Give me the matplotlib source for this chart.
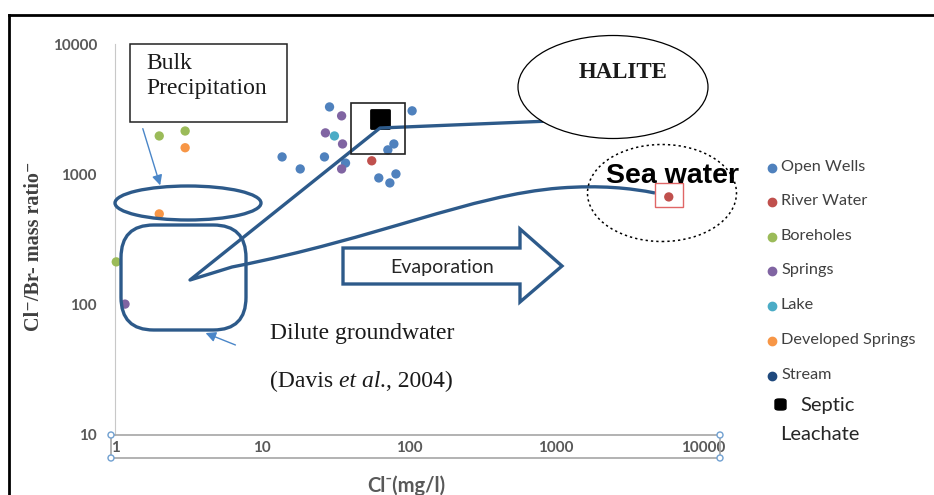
import matplotlib
matplotlib.use('Agg')
import matplotlib.pyplot as plt
from matplotlib.patches import Ellipse, Rectangle, FancyBboxPatch, Polygon, PathPatch, FancyArrowPatch
from matplotlib.lines import Line2D
from matplotlib.path import Path

# Cl (mg/l) vs Cl/Br mass ratio, per sample type
open_wells_x = [13.7, 18.2, 28.8, 26.6, 37, 105, 78.9, 71.8, 62.3, 81.5, 74.1]
open_wells_y = [1360, 1100, 3290, 1360, 1220, 3070, 1710, 1540, 938, 1007, 859]
river_x = [55.8, 5850]
river_y = [1270, 671]
bore_x = [2.0, 3.0, 1.02]
bore_y = [1970, 2150, 213]
springs_x = [34.8, 27, 35.3, 34.8, 1.17]
springs_y = [2810, 2080, 1710, 1100, 101]
lake_x = [31.1]
lake_y = [1970]
dev_x = [3.0, 2.0]
dev_y = [1600, 497]
stream_x = []
stream_y = []
septic_x = [63.3]
septic_y = [2660]

categories = ['Open Wells', 'River Water', 'Boreholes', 'Springs', 'Lake',
              'Developed Springs', 'Stream']
colors = ['#4F81BD', '#C0504D', '#9BBB59', '#8064A2', '#4BACC6', '#F79646', '#1F497D']
series = [(open_wells_x, open_wells_y), (river_x, river_y), (bore_x, bore_y),
          (springs_x, springs_y), (lake_x, lake_y), (dev_x, dev_y),
          (stream_x, stream_y)]

x_ticks = [1, 10, 100, 1000, 10000]
y_ticks = [10, 100, 1000, 10000]

W, H = 934, 495
fig = plt.figure(figsize=(W / 100, H / 100), dpi=100)


def P(x, y):
    # pixel position (top-left origin) -> figure fraction
    return (x / W, 1 - y / H)


ax0, ax1, ay0, ay1 = 115, 703, 435, 44
ax = fig.add_axes([ax0 / W, 1 - ay0 / H, (ax1 - ax0) / W, (ay0 - ay1) / H])
ax.set_xscale('log')
ax.set_yscale('log')
ax.set_xlim(1, 10000)
ax.set_ylim(10, 10000)
for s in ax.spines.values():
    s.set_visible(False)
ax.spines['left'].set_visible(True)
ax.spines['left'].set_color('#c8c8c8')
ax.minorticks_off()
ax.set_xticks(x_ticks)
ax.set_xticklabels([str(v) for v in x_ticks])
ax.set_yticks(y_ticks)
ax.set_yticklabels([str(v) for v in y_ticks])
ax.tick_params(length=0, labelcolor='#595959', labelsize=11)
ax.tick_params(axis='y', pad=13)
ax.tick_params(axis='x', pad=4)
for lab in ax.get_xticklabels() + ax.get_yticklabels():
    lab.set_family('Lato')
    lab.set_fontweight('bold')

for (xs, ys), c in zip(series, colors):
    if xs:
        ax.scatter(xs, ys, s=45, color=c, edgecolor='none', zorder=3, clip_on=False)
ax.scatter(septic_x, septic_y, marker='s', s=150, color='black',
           edgecolor='black', linewidth=2, zorder=4)

# x axis frame with selection handles
gray = '#a6a6a6'
for (xa, ya, xb, yb) in [(111, 435, 720, 435), (111, 458, 720, 458),
                         (111, 435, 111, 458), (720, 435, 720, 458)]:
    fig.add_artist(Line2D(*zip(P(xa, ya), P(xb, yb)), color=gray, lw=1.2))
for (xa, ya) in [(111, 435), (720, 435), (111, 458), (720, 458)]:
    fig.add_artist(Ellipse(P(xa, ya), 6 / W, 6 / H, transform=fig.transFigure,
                           facecolor='white', edgecolor='#6f9fd0', lw=1, zorder=5))

# outer frame
fig.add_artist(Line2D(*zip(P(9, 15), P(934, 15)), color='black', lw=2))
fig.add_artist(Line2D(*zip(P(9, 15), P(9, 495)), color='black', lw=2))

navy = '#2d5a8a'

# mixing / evaporation trend lines
verts = [P(550, 121), P(380, 128), P(190, 280), P(232, 267),
         P(380, 238), P(470, 195), P(560, 188),
         P(600, 185), P(630, 188), P(655, 193)]
codes = [Path.MOVETO, Path.LINETO, Path.LINETO, Path.LINETO,
         Path.CURVE4, Path.CURVE4, Path.CURVE4,
         Path.CURVE4, Path.CURVE4, Path.CURVE4]
fig.add_artist(PathPatch(Path(verts, codes), transform=fig.transFigure,
                         facecolor='none', edgecolor=navy, lw=2.4,
                         joinstyle='round', zorder=2))

# bulk precipitation ellipse and dilute groundwater box
fig.add_artist(Ellipse(P(188, 203), 146 / W, 34 / H, transform=fig.transFigure,
                       facecolor='none', edgecolor=navy, lw=2.4, zorder=2))
bx0, by1, bx1, by0 = 121, 225, 246, 330
fig.add_artist(FancyBboxPatch(P(bx0, by0), (bx1 - bx0) / W, (by0 - by1) / H,
                              boxstyle='round,pad=0,rounding_size=0.035',
                              mutation_aspect=W / H,
                              transform=fig.transFigure, facecolor='none',
                              edgecolor=navy, lw=2.4, zorder=2))

# evaporation block arrow
arrow = [P(343, 248), P(520, 248), P(520, 229), P(562, 266), P(520, 302),
         P(520, 284), P(343, 284)]
fig.add_artist(Polygon(arrow, closed=True, transform=fig.transFigure,
                       facecolor='white', edgecolor=navy, lw=2.4, zorder=2.5))
fig.text(*P(442, 268), 'Evaporation', ha='center', va='center',
         family='Lato', fontsize=14, color='#262626', zorder=6)

# Bulk precipitation label box
fig.add_artist(Rectangle(P(130, 122), 157 / W, 78 / H, transform=fig.transFigure,
                         facecolor='white', edgecolor='#222222', lw=1.1, zorder=3))
fig.text(*P(146, 53), 'Bulk\nPrecipitation', ha='left', va='top',
         family='Liberation Serif', fontsize=17, linespacing=1.25,
         color='#1a1a1a', zorder=6)

light = '#4a86c8'
fig.add_artist(FancyArrowPatch(P(142, 126), P(161, 188), transform=fig.transFigure,
                               arrowstyle='-|>,head_length=6,head_width=3',
                               color=light, lw=1, zorder=3))
fig.add_artist(FancyArrowPatch(P(238, 346), P(203, 332), transform=fig.transFigure,
                               arrowstyle='-|>,head_length=6,head_width=3',
                               color=light, lw=1, zorder=3))

serif = dict(family='Liberation Serif', fontsize=17, color='#1a1a1a', va='baseline')
fig.text(*P(270, 339), 'Dilute groundwater', ha='left', **serif)

# citation with italic "et al."
renderer = fig.canvas.get_renderer()
cx, cy = P(270, 387)
parts = [('(Davis ', 'normal'), ('et al.', 'italic'), (', 2004)', 'normal')]
for txt, style in parts:
    t = fig.text(cx, cy, txt, ha='left', style=style, **serif)
    cx += t.get_window_extent(renderer).width / W

# septic leachate frame
fig.add_artist(Rectangle(P(351, 154), 54 / W, 51 / H, transform=fig.transFigure,
                         facecolor='none', edgecolor='#222222', lw=1.2, zorder=3))

# halite
fig.add_artist(Ellipse(P(613, 87), 190 / W, 103 / H, transform=fig.transFigure,
                       facecolor='white', edgecolor='black', lw=0.9, zorder=3))
fig.text(*P(623, 72), 'HALITE', ha='center', va='center', family='Liberation Serif',
         fontweight='bold', fontsize=16.5, color='#1a1a1a', zorder=6)

# sea water
fig.add_artist(Ellipse(P(662, 193), 149 / W, 97 / H, transform=fig.transFigure,
                       facecolor='none', edgecolor='black', lw=1.1,
                       linestyle=(0, (1.5, 2)), zorder=3))
fig.add_artist(Rectangle(P(655, 207), 28 / W, 24 / H, transform=fig.transFigure,
                         facecolor='none', edgecolor='#e06666', lw=1, zorder=3))
fig.text(*P(673, 176), 'Sea water', ha='center', va='center',
         family='Liberation Sans', fontweight='bold', fontsize=20.5,
         color='black', zorder=6)

# legend
rows = [167, 201, 236, 270, 305, 340, 375]
for name, c, y in zip(categories, colors, rows):
    fig.add_artist(Line2D([772 / W], [1 - (y + 1) / H], marker='o', markersize=6,
                          color=c, linestyle='none', transform=fig.transFigure))
    fig.text(*P(781, y), name, ha='left', va='center', family='Lato',
             fontsize=11.7, color='#404040')
fig.add_artist(FancyBboxPatch(P(775, 410), 11 / W, 11 / H,
                              boxstyle='round,pad=0,rounding_size=0.004',
                              transform=fig.transFigure, facecolor='black',
                              edgecolor='black'))
fig.text(*P(800, 406), 'Septic', ha='left', va='center', family='Lato',
         fontsize=14.5, color='#262626')
fig.text(*P(780, 435), 'Leachate', ha='left', va='center', family='Lato',
         fontsize=14.5, color='#262626')

# axis titles
fig.text(*P(34, 246), 'Cl⁻/Br- mass ratio⁻', rotation=90, ha='center', va='center',
         family=['Liberation Serif', 'DejaVu Serif'], fontsize=14.5,
         fontweight='bold', color='#404040')
fig.text(*P(406, 486), 'Cl⁻(mg/l)', ha='center', va='center',
         family=['Lato', 'DejaVu Sans'], fontsize=14.5, fontweight='bold',
         color='#595959')

fig.savefig('out.png', dpi=100)
